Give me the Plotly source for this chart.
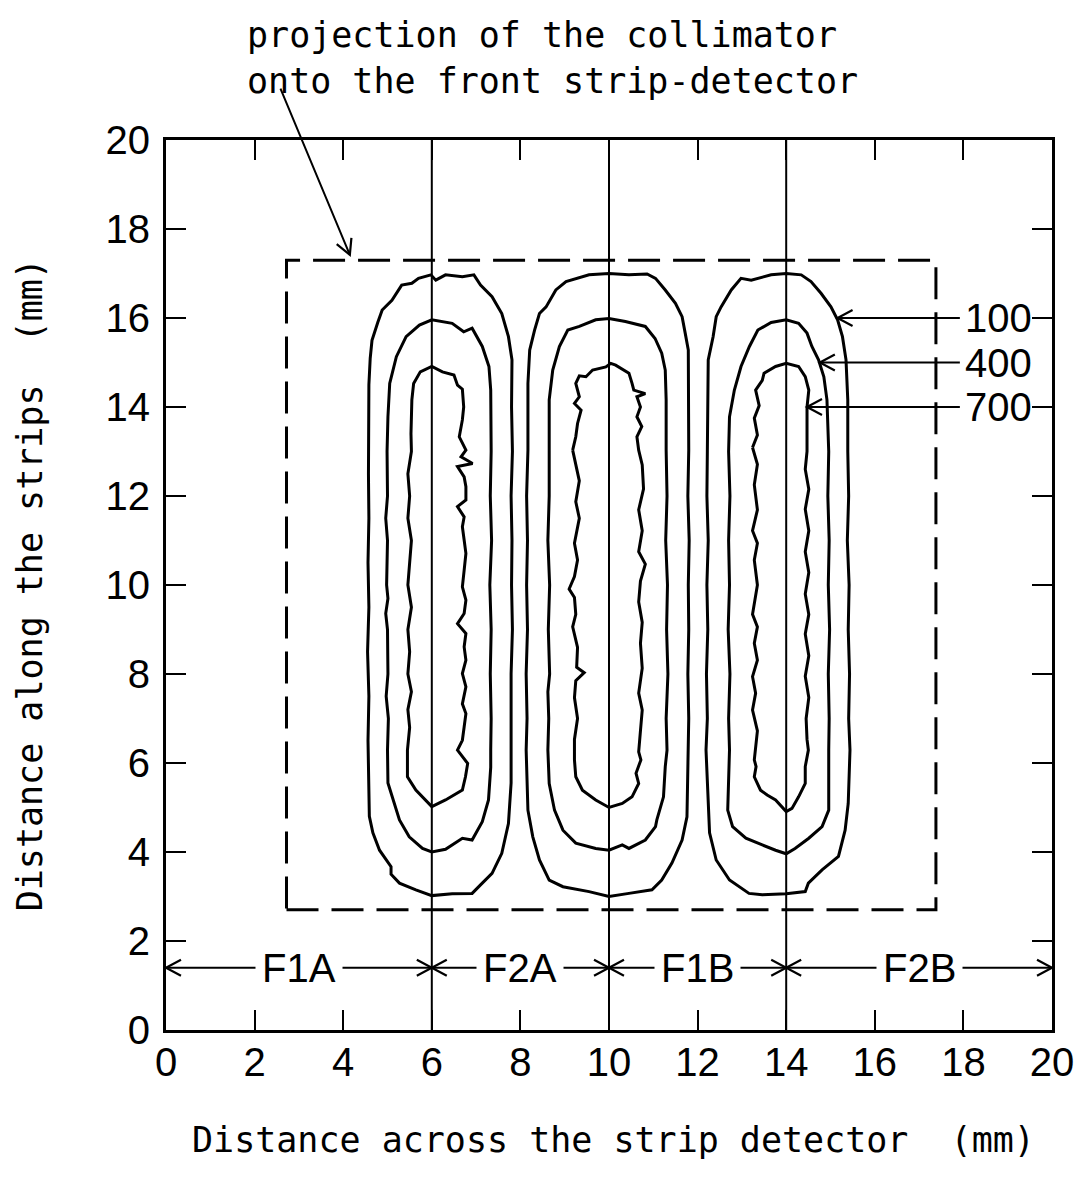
import math
import plotly.graph_objects as go

# ---------------- data ----------------
x_range = [0, 20]
y_range = [0, 20]
x_ticks = list(range(0, 21, 2))
y_ticks = list(range(0, 21, 2))

strip_edges = [6, 10, 14]
proj_x = [2.72, 17.38]
proj_y = [2.7, 17.3]

region_names = ["F1A", "F2A", "F1B", "F2B"]
region_bounds = [0, 6, 10, 14, 20]
region_arrow_y = 1.4

level_names = ["100", "400", "700"]
level_label_y = [16.0, 15.0, 14.0]
level_tip_x = [15.16, 14.76, 14.47]
level_arrow_start_x = 17.92
level_label_x = 18.0

proj_note = ["projection of the collimator", "onto the front strip-detector"]
proj_arrow_from = (2.57, 21.19)
proj_arrow_to = (4.15, 17.42)

# contour lines (x, y), group at x=6
L100 = [(4.57,12.5),(4.58,13.5),(4.58,14.5),(4.61,15.1),(4.65,15.5),(4.78,15.9),(4.88,16.18),(5.10,16.4),
        (5.32,16.74),(5.55,16.78),(5.70,16.89),(5.98,16.97),(6.09,16.85),(6.31,16.97),(6.69,16.93),(6.95,16.97),
        (7.10,16.74),(7.36,16.48),(7.58,16.1),(7.73,15.58),(7.81,15.06),(7.80,14.0),(7.82,13.0),(7.79,12.0),
        (7.81,11.0),(7.80,10.0),(7.82,9.0),(7.79,8.0),(7.80,7.0),(7.79,6.3),(7.79,5.55),(7.73,4.64),(7.58,3.97),
        (7.36,3.52),(7.10,3.26),(6.91,3.07),(6.46,3.06),(6.00,3.02),(5.64,3.15),(5.27,3.30),(5.08,3.50),
        (5.08,3.67),(4.82,4.04),(4.67,4.43),(4.59,4.8),(4.58,5.5),(4.56,6.5),(4.58,7.5),(4.55,8.5),(4.58,9.5),
        (4.56,10.5),(4.58,11.5),(4.57,12.5)]
L400 = [(4.99,13.0),(5.01,13.78),(5.05,14.53),(5.2,15.13),(5.42,15.58),(5.72,15.84),(6.0,15.96),(6.46,15.88),
        (6.72,15.69),(6.91,15.77),(7.14,15.36),(7.29,14.91),(7.33,14.38),(7.34,13.0),(7.32,12.0),(7.35,11.0),
        (7.31,10.0),(7.34,9.0),(7.32,8.0),(7.34,7.0),(7.33,6.3),(7.33,5.9),(7.28,5.17),(7.14,4.68),(6.91,4.27),
        (6.69,4.31),(6.31,4.06),(6.0,4.0),(5.79,4.08),(5.49,4.34),(5.27,4.72),(5.12,5.17),(5.01,5.55),(5.0,6.29),
        (5.02,7.0),(4.97,7.5),(5.01,8.0),(5.0,9.0),(4.96,9.36),(5.01,9.7),(4.98,10.0),(5.0,11.0),(4.96,11.5),
        (5.0,12.0),(4.99,13.0)]
L700 = [(5.53,13.4),(5.55,14.16),(5.59,14.53),(5.74,14.79),(6.0,14.91),(6.24,14.79),(6.5,14.72),(6.58,14.49),
        (6.69,14.4),(6.72,14.0),(6.69,13.71),(6.62,13.33),(6.77,13.03),(6.66,12.88),(6.92,12.73),(6.58,12.66),
        (6.73,12.43),(6.77,12.21),(6.77,11.91),(6.58,11.76),(6.73,11.53),(6.69,11.31),(6.73,11.01),(6.77,10.71),
        (6.73,10.33),(6.69,9.96),(6.77,9.66),(6.73,9.36),(6.58,9.13),(6.77,8.91),(6.73,8.61),(6.77,8.31),
        (6.69,8.01),(6.77,7.71),(6.69,7.33),(6.77,7.11),(6.73,6.81),(6.69,6.51),(6.58,6.29),(6.69,6.14),
        (6.81,5.99),(6.76,5.69),(6.69,5.39),(6.31,5.17),(6.0,5.02),(5.64,5.39),(5.45,5.69),(5.45,6.29),
        (5.50,6.8),(5.46,7.2),(5.54,7.6),(5.46,8.0),(5.50,8.5),(5.46,9.0),(5.54,9.5),(5.46,10.0),(5.50,10.5),
        (5.54,11.0),(5.46,11.5),(5.50,12.0),(5.46,12.5),(5.54,13.0),(5.53,13.4)]

# group at x=10
M100 = [(8.17,13.03),(8.17,14.53),(8.21,15.28),(8.32,15.73),(8.43,16.1),(8.58,16.25),(8.80,16.63),(9.03,16.82),
        (9.55,16.97),(10.0,17.0),(10.45,16.97),(10.86,16.99),(11.05,16.89),(11.27,16.63),(11.50,16.33),
        (11.65,16.03),(11.72,15.66),(11.79,15.28),(11.80,13.03),(11.78,12.0),(11.81,11.0),(11.79,10.0),
        (11.80,9.0),(11.78,8.0),(11.80,7.0),(11.79,6.29),(11.76,4.79),(11.65,4.27),(11.42,3.75),(11.19,3.37),
        (10.97,3.15),(10.45,3.07),(10.0,3.0),(9.55,3.11),(8.96,3.22),(8.65,3.37),(8.43,3.82),(8.28,4.34),
        (8.17,4.94),(8.13,6.29),(8.15,7.0),(8.13,8.0),(8.16,9.0),(8.14,10.0),(8.16,11.0),(8.14,12.0),(8.17,13.03)]
M400 = [(8.65,13.03),(8.65,14.16),(8.73,14.83),(8.88,15.36),(9.07,15.73),(9.33,15.81),(9.70,15.96),(10.0,15.99),
        (10.37,15.92),(10.82,15.81),(11.04,15.54),(11.19,15.21),(11.27,14.83),(11.29,14.16),(11.29,13.03),
        (11.31,12.0),(11.28,11.0),(11.32,10.0),(11.30,9.0),(11.33,8.0),(11.29,7.0),(11.31,6.29),(11.27,5.92),
        (11.23,5.24),(11.08,4.72),(11.05,4.57),(10.82,4.27),(10.45,4.08),(10.30,4.16),(10.0,4.04),(9.70,4.08),
        (9.25,4.2),(8.96,4.49),(8.77,4.94),(8.65,5.54),(8.62,6.29),(8.64,7.0),(8.62,7.6),(8.66,8.0),(8.63,9.0),
        (8.66,10.0),(8.62,11.0),(8.65,12.0),(8.65,13.03)]
M700 = [(9.18,13.03),(9.25,13.33),(9.29,13.63),(9.37,13.93),(9.22,14.08),(9.33,14.23),(9.25,14.53),(9.33,14.7),
        (9.48,14.68),(9.63,14.83),(9.93,14.9),(10.04,14.98),(10.15,14.94),(10.45,14.76),(10.52,14.53),
        (10.56,14.38),(10.82,14.3),(10.63,14.23),(10.71,14.0),(10.63,13.78),(10.74,13.56),(10.63,13.33),
        (10.67,13.03),(10.75,12.7),(10.78,12.16),(10.67,11.69),(10.75,11.22),(10.67,10.75),(10.82,10.47),
        (10.71,10.09),(10.67,9.62),(10.75,9.16),(10.71,8.69),(10.75,8.13),(10.67,7.57),(10.75,7.19),(10.71,6.72),
        (10.67,6.25),(10.72,6.07),(10.61,5.77),(10.67,5.54),(10.52,5.24),(10.30,5.09),(10.0,5.0),(9.70,5.17),
        (9.40,5.39),(9.25,5.69),(9.22,6.07),(9.22,6.53),(9.29,7.00),(9.22,7.47),(9.25,7.85),(9.44,8.03),
        (9.27,8.15),(9.29,8.60),(9.18,9.06),(9.25,9.34),(9.22,9.72),(9.10,9.91),(9.22,10.19),(9.29,10.56),
        (9.22,10.94),(9.33,11.50),(9.25,11.87),(9.33,12.34),(9.22,12.90),(9.18,13.03)]

# group at x=14
R100 = [(12.22,13.0),(12.24,15.06),(12.35,15.58),(12.42,16.03),(12.53,16.25),(12.76,16.63),(12.98,16.89),
        (13.21,16.85),(13.66,16.97),(14.0,17.0),(14.34,16.97),(14.56,16.82),(14.79,16.55),(15.01,16.25),
        (15.16,15.96),(15.27,15.58),(15.35,15.06),(15.39,14.16),(15.39,13.0),(15.41,12.0),(15.38,11.0),
        (15.42,10.0),(15.40,9.0),(15.43,8.0),(15.41,7.0),(15.44,6.29),(15.40,5.09),(15.33,4.49),(15.18,3.9),
        (14.81,3.6),(14.5,3.3),(14.43,3.11),(14.0,3.06),(13.46,3.04),(13.16,3.07),(12.72,3.37),(12.42,3.82),
        (12.27,4.43),(12.19,6.29),(12.22,7.0),(12.20,8.0),(12.23,9.0),(12.21,10.0),(12.24,11.0),(12.21,12.0),
        (12.22,13.0)]
R400 = [(12.70,13.0),(12.72,13.78),(12.83,14.38),(12.98,14.91),(13.17,15.36),(13.36,15.73),(13.66,15.9),
        (14.0,15.96),(14.28,15.88),(14.47,15.66),(14.58,15.36),(14.73,15.06),(14.85,14.68),(14.92,14.16),
        (14.96,13.0),(14.94,12.0),(14.97,11.0),(14.95,10.0),(14.98,9.0),(14.95,8.0),(14.97,7.0),(14.96,6.29),
        (14.96,4.94),(14.81,4.57),(14.51,4.31),(14.2,4.08),(14.0,3.96),(13.76,4.04),(13.46,4.16),(13.09,4.31),
        (12.79,4.57),(12.68,4.94),(12.72,6.29),(12.70,7.0),(12.73,8.0),(12.69,9.0),(12.72,10.0),(12.70,11.0),
        (12.73,12.0),(12.70,13.0)]
R700 = [(13.24,13.09),(13.35,13.37),(13.28,13.75),(13.39,14.03),(13.31,14.38),(13.46,14.6),(13.50,14.76),
        (13.76,14.91),(14.0,14.98),(14.28,14.91),(14.43,14.68),(14.51,14.38),(14.47,14.0),(14.47,13.0),
        (14.43,12.6),(14.51,12.15),(14.43,11.7),(14.51,11.22),(14.43,10.75),(14.51,10.28),(14.43,9.8),
        (14.51,9.34),(14.43,8.9),(14.51,8.41),(14.43,7.95),(14.51,7.47),(14.45,7.0),(14.47,6.53),(14.50,6.29),
        (14.43,5.92),(14.43,5.54),(14.28,5.24),(14.13,4.98),(14.0,4.91),(13.76,5.17),(13.57,5.28),(13.42,5.39),
        (13.28,5.69),(13.32,5.92),(13.28,6.07),(13.35,6.72),(13.24,7.19),(13.31,7.57),(13.24,7.94),(13.35,8.31),
        (13.28,8.69),(13.35,9.06),(13.24,9.34),(13.35,10.0),(13.28,10.56),(13.35,10.94),(13.24,11.22),
        (13.35,11.69),(13.28,12.25),(13.35,12.71),(13.24,13.09)]

contours = [L100, L400, L700, M100, M400, M700, R100, R400, R700]

# ---------------- layout constants ----------------
W, H = 1086, 1184
ML, MT = 166, 140
PW, PH = 888, 890
MR, MB = W - ML - PW, H - MT - PH
PX_X = PW / (x_range[1] - x_range[0])
PX_Y = PH / (y_range[1] - y_range[0])

MONO = "DejaVu Sans Mono, Liberation Mono, monospace"
SANS = "Liberation Sans, Arial, sans-serif"


def paper_x(px):
    return (px - ML) / PW


def paper_y(py):
    return (MT + PH - py) / PH


def vhead(tx, ty, fx, fy, length=17, half=math.radians(28)):
    dx = (fx - tx) * PX_X
    dy = (fy - ty) * PX_Y
    n = math.hypot(dx, dy)
    ux, uy = dx / n, dy / n
    pts = []
    for s in (1, -1):
        c, si = math.cos(s * half), math.sin(s * half)
        rx = ux * c - uy * si
        ry = ux * si + uy * c
        pts.append((tx + rx * length / PX_X, ty + ry * length / PX_Y))
    return dict(type="path", xref="x", yref="y",
                path=f"M {pts[0][0]},{pts[0][1]} L {tx},{ty} L {pts[1][0]},{pts[1][1]}",
                line=dict(color="black", width=2.2))


fig = go.Figure()

# contours
for pts in contours:
    fig.add_trace(go.Scatter(x=[p[0] for p in pts], y=[p[1] for p in pts], mode="lines",
                             line=dict(color="black", width=3), hoverinfo="skip", showlegend=False))

# strip boundaries
for xe in strip_edges:
    fig.add_trace(go.Scatter(x=[xe, xe], y=y_range, mode="lines",
                             line=dict(color="black", width=2), hoverinfo="skip", showlegend=False))

# collimator projection
fig.add_trace(go.Scatter(x=[proj_x[0], proj_x[1], proj_x[1], proj_x[0], proj_x[0]],
                         y=[proj_y[0], proj_y[0], proj_y[1], proj_y[1], proj_y[0]],
                         mode="lines", line=dict(color="black", width=3, dash="32px,13px"),
                         hoverinfo="skip", showlegend=False))

shapes = []
annotations = []

# region arrows at bottom
for i, name in enumerate(region_names):
    a, b = region_bounds[i], region_bounds[i + 1]
    shapes.append(dict(type="line", xref="x", yref="y", x0=a, x1=b, y0=region_arrow_y, y1=region_arrow_y,
                       line=dict(color="black", width=2)))
    shapes.append(vhead(a, region_arrow_y, b, region_arrow_y))
    shapes.append(vhead(b, region_arrow_y, a, region_arrow_y))
    annotations.append(dict(x=(a + b) / 2, y=region_arrow_y, xref="x", yref="y", text=name, showarrow=False,
                            font=dict(family=SANS, size=40, color="black"), bgcolor="white", borderpad=6,
                            xanchor="center", yanchor="middle"))

# level labels on the right
for name, ly, tx in zip(level_names, level_label_y, level_tip_x):
    shapes.append(dict(type="line", xref="x", yref="y", x0=level_arrow_start_x, x1=tx, y0=ly, y1=ly,
                       line=dict(color="black", width=2)))
    shapes.append(vhead(tx, ly, level_arrow_start_x, ly))
    annotations.append(dict(x=level_label_x, y=ly, xref="x", yref="y", text=name, showarrow=False,
                            font=dict(family=SANS, size=40, color="black"), xanchor="left", yanchor="middle"))

# projection note + arrow
annotations.append(dict(x=proj_arrow_to[0], y=proj_arrow_to[1], xref="x", yref="y",
                        ax=proj_arrow_from[0], ay=proj_arrow_from[1], axref="x", ayref="y",
                        text="", showarrow=True, arrowhead=0, arrowwidth=2, arrowcolor="black", standoff=0))
shapes.append(vhead(proj_arrow_to[0], proj_arrow_to[1], proj_arrow_from[0], proj_arrow_from[1]))
annotations.append(dict(x=paper_x(245), y=paper_y(58), xref="paper", yref="paper",
                        text="<br>".join(proj_note), align="left",
                        showarrow=False, xanchor="left", yanchor="middle",
                        font=dict(family=MONO, size=35, color="black")))

# axis titles
annotations.append(dict(x=paper_x(615), y=paper_y(1140), xref="paper", yref="paper",
                        text="Distance across the strip detector  (mm)", showarrow=False,
                        xanchor="center", yanchor="middle", font=dict(family=MONO, size=35, color="black")))
annotations.append(dict(x=paper_x(30), y=paper_y(585), xref="paper", yref="paper",
                        text="Distance along the strips  (mm)", showarrow=False, textangle=-90,
                        xanchor="center", yanchor="middle", font=dict(family=MONO, size=35, color="black")))

axis_common = dict(ticks="inside", ticklen=20, tickwidth=2, tickcolor="black", showline=True, linewidth=3,
                   linecolor="black", mirror="ticks", showgrid=False, zeroline=False,
                   tickfont=dict(family=SANS, size=40, color="black"))

fig.update_layout(
    width=W, height=H, autosize=False,
    margin=dict(l=ML, r=MR, t=MT, b=MB),
    paper_bgcolor="white", plot_bgcolor="white",
    showlegend=False,
    xaxis=dict(range=x_range, tickvals=x_ticks, ticktext=[str(v) for v in x_ticks],
               ticklabelstandoff=-5, **axis_common),
    yaxis=dict(range=y_range, tickvals=y_ticks, ticktext=[str(v) for v in y_ticks],
               ticklabelstandoff=5, **axis_common),
    shapes=shapes,
    annotations=annotations,
)

fig.write_html("out.html")
